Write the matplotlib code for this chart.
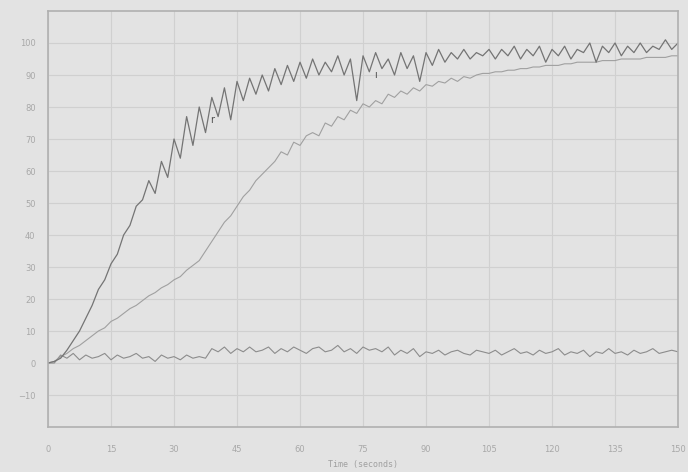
import numpy as np
import matplotlib.pyplot as plt

# time grid (seconds), one sample every 1.5 s
t = np.linspace(0, 150, 101)

fast = [0, 0.5, 1.5, 4, 7, 10, 14, 18, 23, 26,
        31, 34, 40, 43, 49, 51, 57, 53, 63, 58,
        70, 64, 77, 68, 80, 72, 83, 77, 86, 76,
        88, 82, 89, 84, 90, 85, 92, 87, 93, 88,
        94, 89, 95, 90, 94, 91, 96, 90, 95, 82,
        96, 91, 97, 92, 95, 90, 97, 92, 96, 88,
        97, 93, 98, 94, 97, 95, 98, 95, 97, 96,
        98, 95, 98, 96, 99, 95, 98, 96, 99, 94,
        98, 96, 99, 95, 98, 97, 100, 94, 99, 97,
        100, 96, 99, 97, 100, 97, 99, 98, 101, 98,
        100]

slow = [0, 0.5, 2, 3, 4.5, 5.5, 7, 8.5, 10, 11,
        13, 14, 15.5, 17, 18, 19.5, 21, 22, 23.5, 24.5,
        26, 27, 29, 30.5, 32, 35, 38, 41, 44, 46,
        49, 52, 54, 57, 59, 61, 63, 66, 65, 69,
        68, 71, 72, 71, 75, 74, 77, 76, 79, 78,
        81, 80, 82, 81, 84, 83, 85, 84, 86, 85,
        87, 86.5, 88, 87.5, 89, 88, 89.5, 89, 90, 90.5,
        90.5, 91, 91, 91.5, 91.5, 92, 92, 92.5, 92.5, 93,
        93, 93, 93.5, 93.5, 94, 94, 94, 94, 94.5, 94.5,
        94.5, 95, 95, 95, 95, 95.5, 95.5, 95.5, 95.5, 96,
        96]

flat = [0, 0, 2.5, 1.5, 3, 1, 2.5, 1.5, 2, 3,
        1, 2.5, 1.5, 2, 3, 1.5, 2, 0.5, 2.5, 1.5,
        2, 1, 2.5, 1.5, 2, 1.5, 4.5, 3.5, 5, 3,
        4.5, 3.5, 5, 3.5, 4, 5, 3, 4.5, 3.5, 5,
        4, 3, 4.5, 5, 3.5, 4, 5.5, 3.5, 4.5, 3,
        5, 4, 4.5, 3.5, 5, 2.5, 4, 3, 4.5, 2,
        3.5, 3, 4, 2.5, 3.5, 4, 3, 2.5, 4, 3.5,
        3, 4, 2.5, 3.5, 4.5, 3, 3.5, 2.5, 4, 3,
        3.5, 4.5, 2.5, 3.5, 3, 4, 2, 3.5, 3, 4.5,
        3, 3.5, 2.5, 4, 3, 3.5, 4.5, 3, 3.5, 4,
        3.5]

xticks = [0, 15, 30, 45, 60, 75, 90, 105, 120, 135, 150]
yticks = [-10, 0, 10, 20, 30, 40, 50, 60, 70, 80, 90, 100]

bg = '#e3e3e3'
fig = plt.figure(figsize=(6.88, 4.72), dpi=100, facecolor=bg)
ax = fig.add_axes([0.0698, 0.0953, 0.9157, 0.8814], facecolor=bg)

ax.plot(t, flat, color='#8c8c8c', lw=0.8)
ax.plot(t, slow, color='#a0a0a0', lw=0.8)
ax.plot(t, fast, color='#747474', lw=0.9)

ax.text(39, 76, 'r', fontsize=7, color='#505050', ha='center', va='center')
ax.text(78, 90, 'ı', fontsize=7, color='#505050', ha='center', va='center')

ax.set_xlim(0, 150)
ax.set_ylim(-20, 110)
ax.set_xticks(xticks)
ax.set_yticks(yticks)
ax.grid(True, color='#d0d0d0', lw=0.8)
ax.tick_params(colors='#a8a8a8', labelsize=6, length=0)
ax.tick_params(axis='x', pad=13)
ax.tick_params(axis='y', pad=9)
for s in ax.spines.values():
    s.set_color('#b0b0b0')
    s.set_linewidth(1.2)

ax.set_xlabel('Time (seconds)', fontsize=6, color='#a0a0a0',
              family='DejaVu Sans Mono', labelpad=4)

fig.savefig('out.png', dpi=100, facecolor=bg)
